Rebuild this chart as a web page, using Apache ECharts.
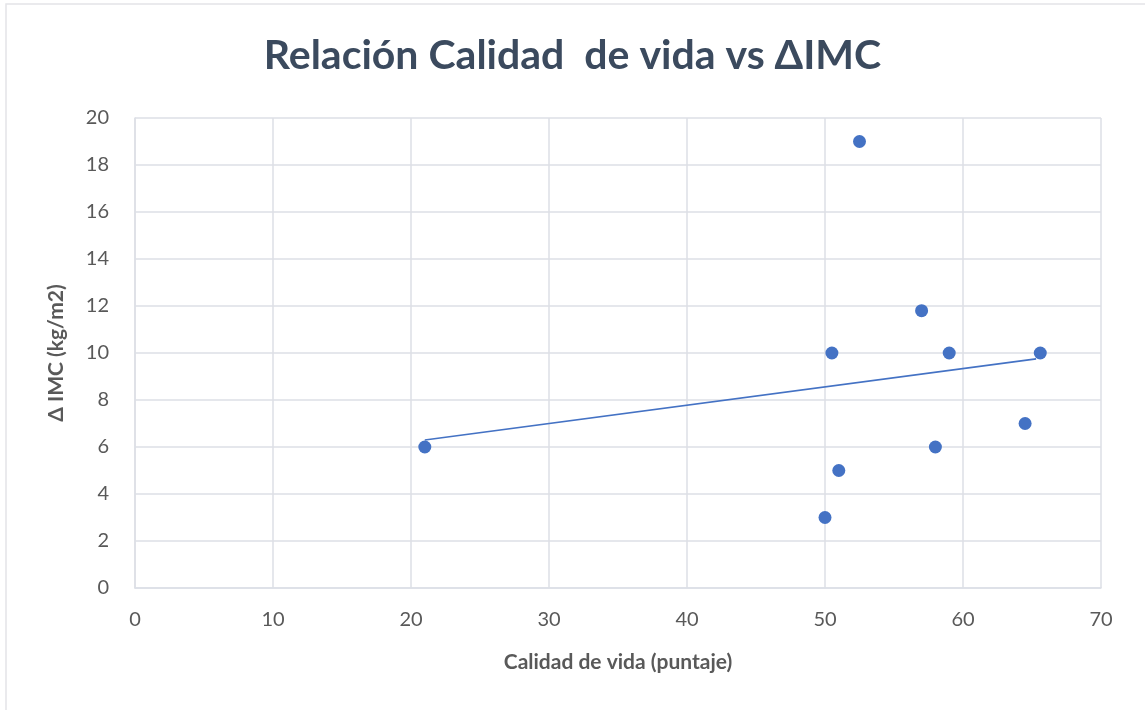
<!DOCTYPE html>
<html lang="es">
<head>
    <meta charset="UTF-8">
    <title>Relación Calidad de vida vs ΔIMC</title>
    <script type="text/javascript" src="https://cdn.jsdelivr.net/npm/echarts@6/dist/echarts.min.js"></script>
    <style>
        html, body { margin: 0; padding: 0; background: #fff; }
        #chart1 { width: 1145px; height: 710px; }
    </style>
</head>
<body>
<div id="chart1"></div>
<script type="text/javascript">
    // puntos
    var calidadVida = [21, 50, 50.5, 51, 52.5, 57, 58, 59, 64.5, 65.6];
    var deltaImc = [6, 3, 10, 5, 19, 11.8, 6, 10, 7, 10];
    // linea de tendencia (extremos leidos)
    var tendenciaX = [21, 65.3];
    var tendenciaY = [6.3, 9.75];

    var puntos = [];
    for (var i = 0; i < calidadVida.length; i++) {
        puntos.push([calidadVida[i], deltaImc[i]]);
    }
    var tendencia = [];
    for (var j = 0; j < tendenciaX.length; j++) {
        tendencia.push([tendenciaX[j], tendenciaY[j]]);
    }

    var azul = '#4472c4';
    var gris = '#595959';
    var fuente = 'Lato, "Open Sans", sans-serif';

    var myChart = echarts.init(document.getElementById('chart1'));
    var option = {
        backgroundColor: '#fff',
        animation: false,
        title: {
            text: 'Relación Calidad  de vida vs ΔIMC',
            left: 'center',
            top: 30,
            textStyle: {
                fontFamily: fuente,
                fontSize: 41,
                fontWeight: 'bold',
                color: '#3b4a5e'
            }
        },
        graphic: [{
            type: 'rect',
            shape: {x: 6, y: 4, width: 1150, height: 720},
            style: {fill: 'none', stroke: '#e4e4e8', lineWidth: 1.5},
            silent: true
        }],
        grid: {
            left: 135,
            right: 44,
            top: 118,
            bottom: 122
        },
        xAxis: {
            type: 'value',
            min: 0,
            max: 70,
            interval: 10,
            name: 'Calidad de vida (puntaje)',
            nameLocation: 'middle',
            nameGap: 64,
            nameTextStyle: {fontFamily: fuente, fontSize: 21, fontWeight: 'bold', color: gris},
            axisLine: {show: true, lineStyle: {color: '#dcdfe6', width: 1.5}},
            axisTick: {show: false},
            axisLabel: {fontFamily: fuente, fontSize: 20, color: gris, margin: 22},
            splitLine: {show: true, lineStyle: {color: '#dcdfe6', width: 1.5}}
        },
        yAxis: {
            type: 'value',
            min: 0,
            max: 20,
            interval: 2,
            name: 'Δ IMC (kg/m2)',
            nameLocation: 'middle',
            nameGap: 68,
            nameTextStyle: {fontFamily: fuente, fontSize: 21, fontWeight: 'bold', color: gris},
            axisLine: {show: true, lineStyle: {color: '#dcdfe6', width: 1.5}},
            axisTick: {show: false},
            axisLabel: {fontFamily: fuente, fontSize: 20, color: gris, margin: 26},
            splitLine: {show: true, lineStyle: {color: '#dcdfe6', width: 1.5}}
        },
        series: [
            {
                name: 'tendencia',
                type: 'line',
                data: tendencia,
                symbol: 'none',
                lineStyle: {color: azul, width: 1.6},
                silent: true,
                z: 2
            },
            {
                name: 'puntos',
                type: 'scatter',
                data: puntos,
                symbolSize: 13,
                itemStyle: {color: azul, opacity: 1},
                z: 3
            }
        ]
    };
    myChart.setOption(option);
</script>
</body>
</html>
